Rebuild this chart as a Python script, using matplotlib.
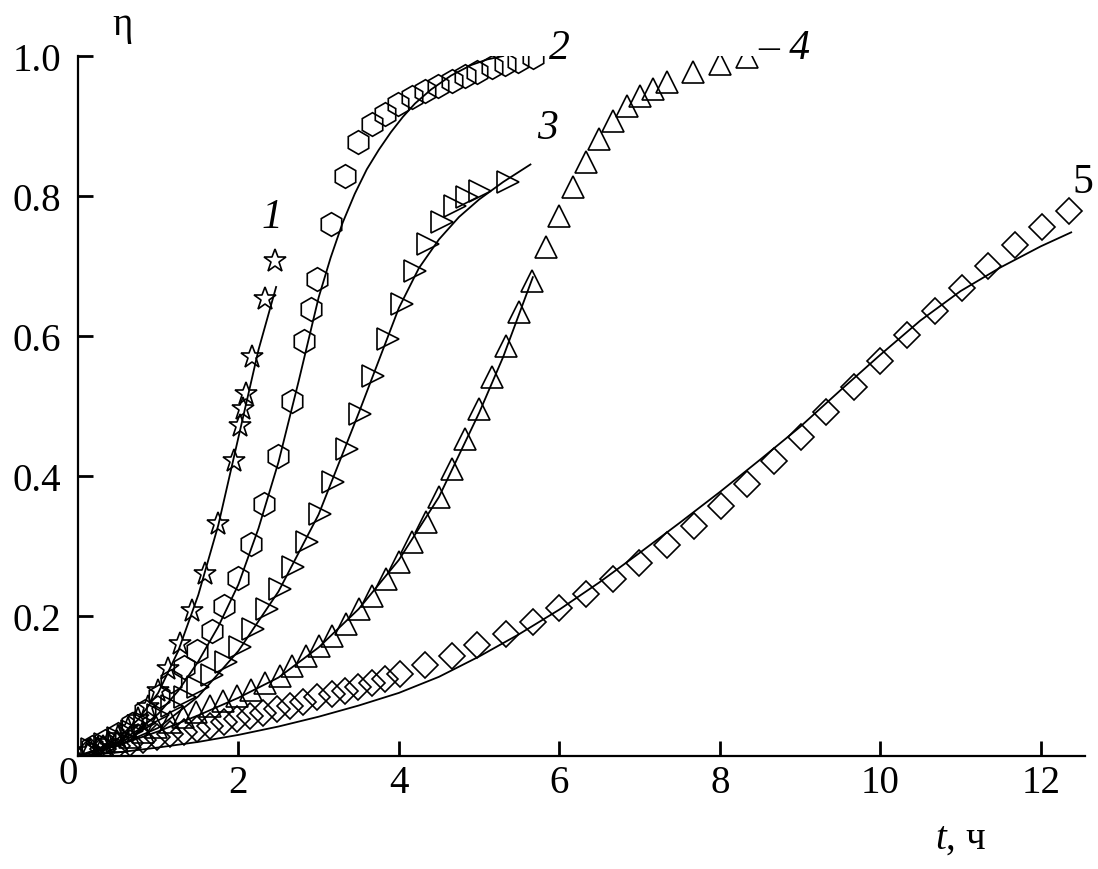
import matplotlib
matplotlib.use("Agg")
import matplotlib.pyplot as plt

plt.rcParams['font.family'] = ['Liberation Serif', 'DejaVu Serif']
plt.rcParams['mathtext.fontset'] = 'custom'
plt.rcParams['mathtext.it'] = 'Liberation Serif:italic'
plt.rcParams['mathtext.rm'] = 'Liberation Serif'

# ---- data (t, h ; eta) ----
t1 = [0.12, 0.25, 0.37, 0.5, 0.62, 0.75, 0.87, 1.0, 1.12, 1.27, 1.42, 1.58, 1.74,
      1.94, 2.02, 2.06, 2.09, 2.17, 2.33, 2.45]
e1 = [0.007, 0.011, 0.019, 0.027, 0.039, 0.053, 0.07, 0.093, 0.124, 0.16, 0.207, 0.26,
      0.331, 0.421, 0.471, 0.496, 0.517, 0.57, 0.653, 0.707]
fit1_t = [0, 0.25, 0.5, 0.75, 1.0, 1.25, 1.5, 1.75, 2.0, 2.25, 2.47]
fit1_e = [0, 0.01, 0.025, 0.052, 0.09, 0.15, 0.23, 0.33, 0.455, 0.58, 0.67]

t2 = [0.17, 0.34, 0.50, 0.67, 0.83, 1.01, 1.16, 1.32, 1.48, 1.67, 1.82, 1.99, 2.16, 2.32,
      2.49, 2.67, 2.82, 2.90, 2.98, 3.15, 3.33, 3.49, 3.66, 3.83, 3.99, 4.16, 4.32, 4.49,
      4.66, 4.82, 4.98, 5.16, 5.32, 5.48, 5.67]
e2 = [0.013, 0.021, 0.031, 0.046, 0.064, 0.086, 0.107, 0.127, 0.15, 0.179, 0.214, 0.254,
      0.303, 0.36, 0.429, 0.507, 0.593, 0.639, 0.681, 0.76, 0.829, 0.877, 0.903, 0.917,
      0.931, 0.941, 0.95, 0.957, 0.964, 0.971, 0.977, 0.984, 0.989, 0.993, 0.999]
fit2_t = [0, 0.25, 0.5, 0.75, 1.0, 1.25, 1.5, 1.75, 2.0, 2.25, 2.5, 2.75, 3.0, 3.15,
          3.3, 3.45, 3.6, 3.75, 3.9, 4.05, 4.2, 4.4, 4.65, 4.9, 5.1, 5.3]
fit2_e = [0, 0.008, 0.02, 0.037, 0.06, 0.093, 0.135, 0.185, 0.245, 0.325, 0.42, 0.535,
          0.655, 0.712, 0.762, 0.803, 0.838, 0.866, 0.891, 0.913, 0.932, 0.952, 0.972,
          0.987, 0.995, 1.0]

t3 = [0.17, 0.34, 0.50, 0.67, 0.83, 1.0, 1.17, 1.33, 1.50, 1.67, 1.84, 2.02, 2.18, 2.36,
      2.52, 2.68, 2.85, 3.02, 3.18, 3.35, 3.51, 3.68, 3.86, 4.04, 4.20, 4.36, 4.54, 4.70,
      4.85, 5.01, 5.36]
e3 = [0.01, 0.017, 0.026, 0.036, 0.047, 0.059, 0.071, 0.084, 0.099, 0.116, 0.134, 0.156,
      0.181, 0.21, 0.239, 0.27, 0.306, 0.346, 0.391, 0.439, 0.489, 0.543, 0.596, 0.646,
      0.693, 0.731, 0.763, 0.786, 0.799, 0.807, 0.82]
fit3_t = [0, 0.5, 1.0, 1.5, 2.0, 2.5, 3.0, 3.5, 4.0, 4.25, 4.5, 4.75, 5.0, 5.3, 5.64]
fit3_e = [0, 0.015, 0.04, 0.085, 0.15, 0.235, 0.345, 0.49, 0.64, 0.697, 0.738, 0.77,
          0.795, 0.82, 0.845]

t4 = [0.15, 0.31, 0.49, 0.65, 0.81, 0.97, 1.15, 1.31, 1.47, 1.64, 1.81, 1.98, 2.16, 2.33,
      2.52, 2.67, 2.84, 3.0, 3.17, 3.34, 3.50, 3.66, 3.84, 4.0, 4.16, 4.34, 4.50, 4.66,
      4.83, 5.0, 5.16, 5.33, 5.50, 5.66, 5.83, 5.99, 6.17, 6.33, 6.49, 6.67, 6.84, 7.0,
      7.17, 7.34, 7.66, 8.0, 8.34]
e4 = [0.009, 0.014, 0.021, 0.027, 0.034, 0.041, 0.049, 0.056, 0.063, 0.071, 0.079, 0.086,
      0.094, 0.104, 0.114, 0.129, 0.143, 0.157, 0.171, 0.189, 0.21, 0.229, 0.253, 0.277,
      0.306, 0.334, 0.37, 0.41, 0.453, 0.496, 0.541, 0.586, 0.634, 0.679, 0.727, 0.771,
      0.813, 0.849, 0.881, 0.907, 0.929, 0.943, 0.953, 0.963, 0.977, 0.989, 0.998]
fit4_t = [0, 0.5, 1.0, 1.5, 2.0, 2.5, 3.0, 3.5, 4.0, 4.5, 5.0, 5.3, 5.67]
fit4_e = [0, 0.015, 0.035, 0.058, 0.083, 0.112, 0.155, 0.21, 0.28, 0.37, 0.49, 0.57, 0.684]

t5 = [0.15, 0.31, 0.49, 0.65, 0.81, 0.98, 1.15, 1.32, 1.48, 1.64, 1.82, 1.98, 2.14, 2.31,
      2.48, 2.64, 2.80, 2.98, 3.17, 3.33, 3.49, 3.66, 3.83, 4.01, 4.32, 4.66, 4.98, 5.33,
      5.67, 5.99, 6.33, 6.67, 6.99, 7.34, 7.68, 8.01, 8.34, 8.67, 9.01, 9.33, 9.67, 10.0,
      10.33, 10.68, 11.02, 11.34, 11.68, 12.01, 12.35]
e5 = [0.007, 0.01, 0.014, 0.019, 0.023, 0.027, 0.031, 0.034, 0.039, 0.043, 0.049, 0.053,
      0.057, 0.061, 0.067, 0.071, 0.077, 0.084, 0.089, 0.093, 0.099, 0.104, 0.11, 0.117,
      0.13, 0.143, 0.159, 0.174, 0.191, 0.211, 0.231, 0.253, 0.276, 0.301, 0.329, 0.357,
      0.388, 0.422, 0.456, 0.491, 0.527, 0.564, 0.601, 0.636, 0.669, 0.70, 0.73, 0.756,
      0.778]
fit5_t = [0, 0.5, 1, 1.5, 2, 2.5, 3, 3.5, 4, 4.5, 5, 5.5, 6, 6.5, 7, 7.5, 8, 8.5, 9, 9.5,
          10, 10.5, 11, 11.5, 12, 12.38]
fit5_e = [0, 0.005, 0.012, 0.02, 0.03, 0.042, 0.056, 0.072, 0.09, 0.113, 0.142, 0.174,
          0.209, 0.248, 0.29, 0.333, 0.377, 0.423, 0.47, 0.522, 0.573, 0.622, 0.664,
          0.698, 0.728, 0.748]

x_ticks = [2, 4, 6, 8, 10, 12]
y_ticks = [0.2, 0.4, 0.6, 0.8, 1.0]

fig = plt.figure(figsize=(10.98, 8.70), dpi=100)
ax = fig.add_axes([0.071, 0.13, 0.917, 0.8045])

lw = 1.3
for ft, fe in ((fit1_t, fit1_e), (fit2_t, fit2_e), (fit3_t, fit3_e),
               (fit4_t, fit4_e), (fit5_t, fit5_e)):
    ax.plot(ft, fe, color='black', lw=lw, zorder=1, solid_joinstyle='round')

mk2 = dict(linestyle='none', fillstyle='none', mec='black', mew=1.2)
ax.plot(t1, e1, marker='*', ms=17, **mk2)
ax.plot(t2, e2, marker='h', ms=17, **mk2)
ax.plot(t3, e3, marker='>', ms=16, **mk2)
ax.plot(t4, e4, marker='^', ms=16, **mk2)
ax.plot(t5, e5, marker='D', ms=13, **mk2)

ax.set_xlim(0, 12.55)
ax.set_ylim(0, 1.0)
ax.spines['top'].set_visible(False)
ax.spines['right'].set_visible(False)
for s in ('left', 'bottom'):
    ax.spines[s].set_linewidth(1.6)
ax.set_xticks(x_ticks)
ax.set_yticks(y_ticks)
ax.set_yticklabels([f"{v:.1f}" for v in y_ticks])
ax.tick_params(direction='in', length=11, width=2, labelsize=28)
ax.tick_params(axis='x', pad=6)
ax.tick_params(axis='y', pad=12)

ax.text(-0.12, -0.025, "0", fontsize=28, ha='center', va='center', clip_on=False)
ax.text(0.55, 1.045, "η", fontsize=28, ha='center', va='center', clip_on=False)
ax.text(11.0, -0.117, "$t$, ч", fontsize=28, ha='center', va='center', clip_on=False)

lab = dict(fontsize=30, ha='center', va='center', clip_on=False)
ax.text(2.42, 0.77, "1", style='italic', **lab)
ax.text(6.0, 1.012, "2", style='italic', **lab)
ax.text(5.85, 0.897, "3", style='italic', **lab)
ax.text(8.8, 1.012, "– 4", style='italic', **lab)
ax.text(12.52, 0.82, "5", **lab)

fig.savefig("out.png", dpi=100)
